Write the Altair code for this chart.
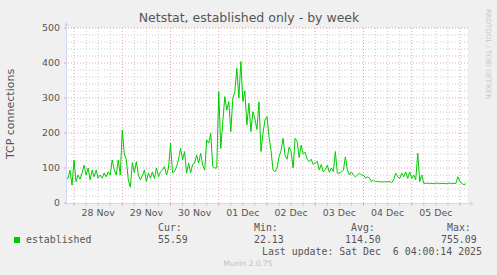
import altair as alt
import pandas as pd

# ---------------- data ----------------
established = [69, 71, 94, 51, 123, 61, 80, 68, 86, 108,
               80, 100, 66, 94, 75, 94, 71, 80, 71, 86,
               75, 89, 80, 123, 95, 80, 123, 80, 208, 140,
               125, 66, 45, 115, 86, 118, 80, 66, 78, 94,
               61, 86, 71, 89, 70, 100, 75, 89, 95, 104,
               80, 100, 171, 86, 90, 104, 125, 156, 123, 147,
               85, 114, 86, 110, 114, 137, 114, 142, 108, 94,
               180, 171, 199, 104, 100, 100, 318, 156, 232, 304,
               265, 290, 204, 300, 318, 385, 300, 404, 290, 320,
               223, 285, 204, 261, 240, 210, 289, 147, 199, 237,
               247, 189, 150, 94, 89, 100, 132, 150, 185, 135,
               125, 160, 147, 100, 185, 175, 130, 165, 140, 145,
               125, 118, 125, 110, 115, 118, 95, 110, 89, 95,
               108, 88, 100, 90, 147, 85, 85, 89, 94, 132,
               94, 80, 89, 80, 75, 80, 85, 80, 80, 71,
               75, 71, 61, 66, 61, 62, 60, 61, 60, 61,
               60, 62, 58, 66, 85, 75, 70, 85, 75, 89,
               70, 89, 70, 80, 66, 142, 61, 80, 56, 56,
               57, 55, 56, 55, 56, 57, 55, 56, 56, 55,
               56, 57, 55, 56, 56, 75, 61, 56, 52, 55.6]

start_time = "2025-11-27T20:00:00Z"
end_time = "2025-12-06T04:00:00Z"
day_dates = ["2025-11-28", "2025-11-29", "2025-11-30", "2025-12-01",
             "2025-12-02", "2025-12-03", "2025-12-04", "2025-12-05"]
day_labels = ["28 Nov", "29 Nov", "30 Nov", "01 Dec",
              "02 Dec", "03 Dec", "04 Dec", "05 Dec"]
midnights = day_dates + ["2025-12-06"]
y_major = [100, 200, 300, 400, 500]
y_labels = [0, 100, 200, 300, 400, 500]

stat_names = ["Cur:", "Min:", "Avg:", "Max:"]
stat_values = ["55.59", "22.13", "114.50", "755.09"]
series_name = "established"
title_text = "Netstat, established only - by week"
y_title = "TCP connections"
last_update = "Last update: Sat Dec\u00a0 6 04:00:14 2025"
footer = "Munin 2.0.75"
watermark = "RRDTOOL / TOBI OETIKER"

# ---------------- tables ----------------
t0 = pd.Timestamp(start_time)
df = pd.DataFrame({
    "time": [(t0 + pd.Timedelta(hours=i)).strftime("%Y-%m-%dT%H:%M:%SZ")
             for i in range(len(established))],
    "value": established,
})


def ms(s):
    ts = pd.Timestamp(s)
    if ts.tzinfo is None:
        ts = ts.tz_localize("UTC")
    return int(ts.timestamp() * 1000)


dom = [ms(start_time), ms(end_time)]
xlab_df = pd.DataFrame({"t": [d + "T12:00:00Z" for d in day_dates], "lab": day_labels})
ylab_df = pd.DataFrame({"v": y_labels})
major_x = pd.DataFrame({"t": [d + "T00:00:00Z" for d in midnights]})
minor_list = []
for d in midnights[:-1]:
    for h in (6, 12, 18):
        minor_list.append(d + "T%02d:00:00Z" % h)
minor_x = pd.DataFrame({"t": minor_list})
minor_y = pd.DataFrame({"v": [v for v in range(20, 500, 20) if v % 100 != 0]})
major_y = pd.DataFrame({"v": y_major})

W, H = 402, 175
FONT = "DejaVu Sans"
MONO = "DejaVu Sans Mono"
TXT = "#555555"
AXISC = "#CFD6F8"
MGRID = "#e8a0a0"
GRID = "#cccccc"

xs = alt.Scale(type="utc", domain=dom, nice=False)
ys = alt.Scale(domain=[0, 500], nice=False, zero=True)

grid_minor_y = alt.Chart(minor_y).mark_rule(color=GRID, strokeDash=[1, 2], strokeWidth=1).encode(
    y=alt.Y("v:Q", scale=ys, axis=None))
grid_minor_x = alt.Chart(minor_x).mark_rule(color=GRID, strokeDash=[1, 2], strokeWidth=1).encode(
    x=alt.X("t:T", scale=xs, axis=None))
grid_major_y = alt.Chart(major_y).mark_rule(color=MGRID, strokeDash=[1, 2], strokeWidth=1).encode(
    y=alt.Y("v:Q", scale=ys, axis=None))
grid_major_x = alt.Chart(major_x).mark_rule(color=MGRID, strokeDash=[1, 2], strokeWidth=1).encode(
    x=alt.X("t:T", scale=xs, axis=None))
ticks_major = alt.Chart(major_x).mark_rule(color=MGRID, strokeWidth=1).encode(
    x=alt.X("t:T", scale=xs, axis=None), y=alt.value(H), y2=alt.value(H + 3))
ticks_minor = alt.Chart(minor_x).mark_rule(color=GRID, strokeWidth=1).encode(
    x=alt.X("t:T", scale=xs, axis=None), y=alt.value(H), y2=alt.value(H + 3))
yticks = alt.Chart(ylab_df).mark_rule(color=MGRID, strokeWidth=1).encode(
    y=alt.Y("v:Q", scale=ys, axis=None), x=alt.value(-2), x2=alt.value(0))

# axis labels drawn through the chart's own scales
ylabels = alt.Chart(ylab_df).mark_text(
    font=FONT, fontSize=9.4, color=TXT, align="right", baseline="middle").encode(
    y=alt.Y("v:Q", scale=ys, axis=None), x=alt.value(-6), text="v:Q")
xlabels = alt.Chart(xlab_df).mark_text(
    font=FONT, fontSize=9.4, color=TXT, align="center", baseline="middle").encode(
    x=alt.X("t:T", scale=xs, axis=None), y=alt.value(H + 9.7), text="lab:N")

line = alt.Chart(df).mark_line(color="#00CC00", strokeWidth=1).encode(
    x=alt.X("time:T", scale=xs, axis=None),
    y=alt.Y("value:Q", scale=ys, axis=None),
)

one = alt.Data(values=[{}])


def txt(s, x, y, size, color=TXT, font=FONT, align="left", angle=0, baseline="middle"):
    return alt.Chart(one).mark_text(
        font=font, fontSize=size, color=color, align=align, angle=angle, baseline=baseline
    ).encode(x=alt.value(x), y=alt.value(y), text=alt.value(s))


yaxis_line = alt.Chart(one).mark_rule(color=AXISC).encode(
    x=alt.value(0.5), y=alt.value(-3), y2=alt.value(H + 0.5))
xaxis_line = alt.Chart(one).mark_rule(color=AXISC).encode(
    x=alt.value(0), x2=alt.value(W + 3), y=alt.value(H + 0.5))
arrow_up = alt.Chart(one).mark_point(shape="triangle-up", filled=True, size=22, color=AXISC, opacity=1).encode(
    x=alt.value(0.5), y=alt.value(-4))
arrow_right = alt.Chart(one).mark_point(shape="triangle-right", filled=True, size=22, color=AXISC, opacity=1).encode(
    x=alt.value(W + 4), y=alt.value(H + 0.5))

square = alt.Chart(one).mark_square(size=36, color="#00CC00", opacity=1).encode(
    x=alt.value(17 - 66), y=alt.value(240 - 28))

stat_x_names = [158, 254, 351, 447]
stat_x_vals = [158, 254, 345, 441]

texts = [
    txt(title_text, 249 - 66, 18 - 28, 12.5, color=TXT, align="center"),
    txt(y_title, 11 - 66, 114 - 28, 11, align="center", angle=270),
    txt(watermark, 488 - 66, 54 - 28, 7, color="#c8c8c8", align="center", angle=90),
    txt(series_name, 26 - 66, 240 - 28, 9.9, font=MONO),
    txt(last_update, 482 - 66, 252 - 28, 9.9, font=MONO, align="right"),
    txt(footer, 248 - 66, 264 - 28, 7.5, color="#c0c0c0", align="center"),
]
for nm, xv in zip(stat_names, stat_x_names):
    texts.append(txt(nm, xv - 66, 228 - 28, 9.9, font=MONO))
for vv, xv in zip(stat_values, stat_x_vals):
    texts.append(txt(vv, xv - 66, 240 - 28, 9.9, font=MONO))

chart = alt.layer(
    grid_minor_y, grid_minor_x, grid_major_y, grid_major_x, ticks_minor, ticks_major, yticks,
    line, yaxis_line, xaxis_line, arrow_up, arrow_right, ylabels, xlabels, square, *texts
).properties(
    width=W, height=H,
    padding={"left": 66, "top": 28, "right": 29, "bottom": 72},
    autosize=alt.AutoSizeParams(type="none"),
    background="#F0F0F0",
).configure_view(strokeWidth=0, fill="white")

chart.save("out.html", embed_options={"renderer": "svg", "actions": False})
